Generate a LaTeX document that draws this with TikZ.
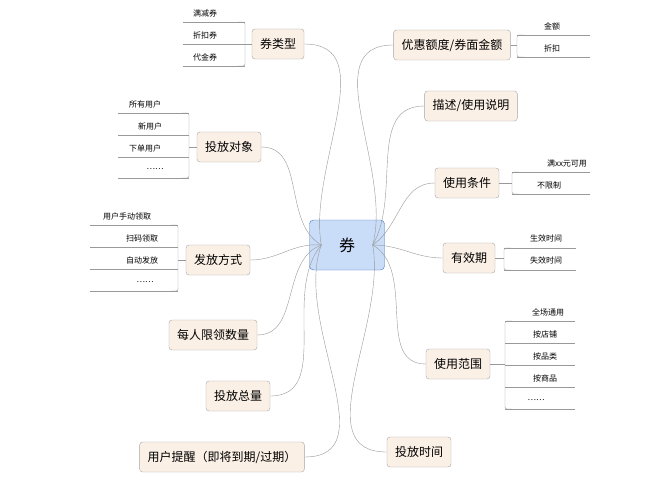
\documentclass[tikz,border=0pt]{standalone}
\usepackage{fontspec}
\newfontfamily\cjk{Noto Sans CJK SC}
\definecolor{branchfill}{HTML}{FBF0E6}
\definecolor{rootfill}{HTML}{C9DCF8}
\definecolor{rootline}{HTML}{4A76C0}
\tikzset{
  root/.style={draw=rootline,fill=rootfill,rounded corners=4pt,minimum width=75pt,minimum height=50pt,font=\cjk\fontsize{16}{16}\selectfont},
  branch/.style={draw=gray!70,fill=branchfill,rounded corners=3pt,minimum height=30pt,inner xsep=8pt,font=\cjk\fontsize{12}{12}\selectfont},
  leaf/.style={font=\cjk\fontsize{8}{8}\selectfont,inner sep=1pt},
  link/.style={draw=gray!80,thin},
}
\begin{document}
\begin{tikzpicture}[x=1pt,y=-1pt]
	\useasboundingbox[fill=white] (0,0) rectangle (671,500);
	\node[root] (c) at (347,245) {券};
	% left branches
	\node[branch] (t) at (278,44) {券类型};
	\node[branch] (o) at (229,147) {投放对象};
	\node[branch] (f) at (218,260) {发放方式};
	\node[branch] (m) at (213,335) {每人限领数量};
	\node[branch] (z) at (238,396) {投放总量};
	\node[branch] (r) at (222,457) {用户提醒（即将到期/过期）};
	% right branches
	\node[branch] (e) at (452,45) {优惠额度/券面金额};
	\node[branch] (d) at (471,106) {描述/使用说明};
	\node[branch] (u) at (467,183) {使用条件};
	\node[branch] (v) at (469,258) {有效期};
	\node[branch] (s) at (458,364) {使用范围};
	\node[branch] (p) at (419,452) {投放时间};
	\foreach \n/\o in {t/100,o/150,f/175,m/200,z/230,r/250}
		\draw[link] (c.west) ++(12,0) to[out=\o,in=0] (\n.east);
	\foreach \n/\o in {e/75,d/60,u/35,v/0,s/-30,p/-80}
		\draw[link] (c.east) ++(-12,0) to[out=\o,in=180] (\n.west);
	% leaf groups left
	\foreach \y/\t [count=\i] in {22/满减券,44/折扣券,66/代金券}{
		\node[leaf] (t\i) at (205,\y-9) {\t};
		\draw[link] (183,\y) -- (245,\y);}
	\draw[link,rounded corners=2pt] (238,22) -- (245,22) -- (245,66) -- (238,66);
	\draw[link] (245,44) -- (t.west);
	\foreach \y/\t/\x [count=\i] in {113/所有用户/145,135/新用户/150,157/下单用户/145,178/……/155}{
		\node[leaf] (o\i) at (\x,\y-9) {\t};
		\draw[link] (118,\y) -- (189,\y);}
	\draw[link,rounded corners=2pt] (182,113) -- (189,113) -- (189,178) -- (182,178);
	\draw[link] (189,147) -- (o.west);
	\foreach \y/\t/\x [count=\i] in {225/用户手动领取/127,247/扫码领取/142,269/自动发放/142,291/……/145}{
		\node[leaf] (f\i) at (\x,\y-9) {\t};
		\draw[link] (90,\y) -- (178,\y);}
	\draw[link,rounded corners=2pt] (171,225) -- (178,225) -- (178,291) -- (171,291);
	\draw[link] (178,260) -- (f.west);
	% leaf groups right
	\foreach \y/\t [count=\i] in {35/金额,57/折扣}{
		\node[leaf] (e\i) at (552,\y-9) {\t};
		\draw[link] (517,\y) -- (590,\y);}
	\draw[link] (e.east) -- (517,45);
	\draw[link,rounded corners=2pt] (524,35) -- (517,35) -- (517,57) -- (524,57);
	\foreach \y/\t/\x [count=\i] in {172/满xx元可用/567,194/不限制/549}{
		\node[leaf] (u\i) at (\x,\y-9) {\t};
		\draw[link] (512,\y) -- (590,\y);}
	\draw[link] (u.east) -- (512,183);
	\draw[link,rounded corners=2pt] (519,172) -- (512,172) -- (512,194) -- (519,194);
	\foreach \y/\t [count=\i] in {248/生效时间,270/失效时间}{
		\node[leaf] (v\i) at (546,\y-10) {\t};
		\draw[link] (504,\y) -- (576,\y);}
	\draw[link] (v.east) -- (504,258);
	\draw[link,rounded corners=2pt] (511,248) -- (504,248) -- (504,270) -- (511,270);
	\foreach \y/\t/\x [count=\i] in {321/全场通用/548,343/按店铺/545,365/按品类/545,387/按商品/545,409/……/536}{
		\node[leaf] (s\i) at (\x,\y-9) {\t};
		\draw[link] (505,\y) -- (575,\y);}
	\draw[link] (s.east) -- (505,364);
	\draw[link,rounded corners=2pt] (512,321) -- (505,321) -- (505,409) -- (512,409);
\end{tikzpicture}
\end{document}
